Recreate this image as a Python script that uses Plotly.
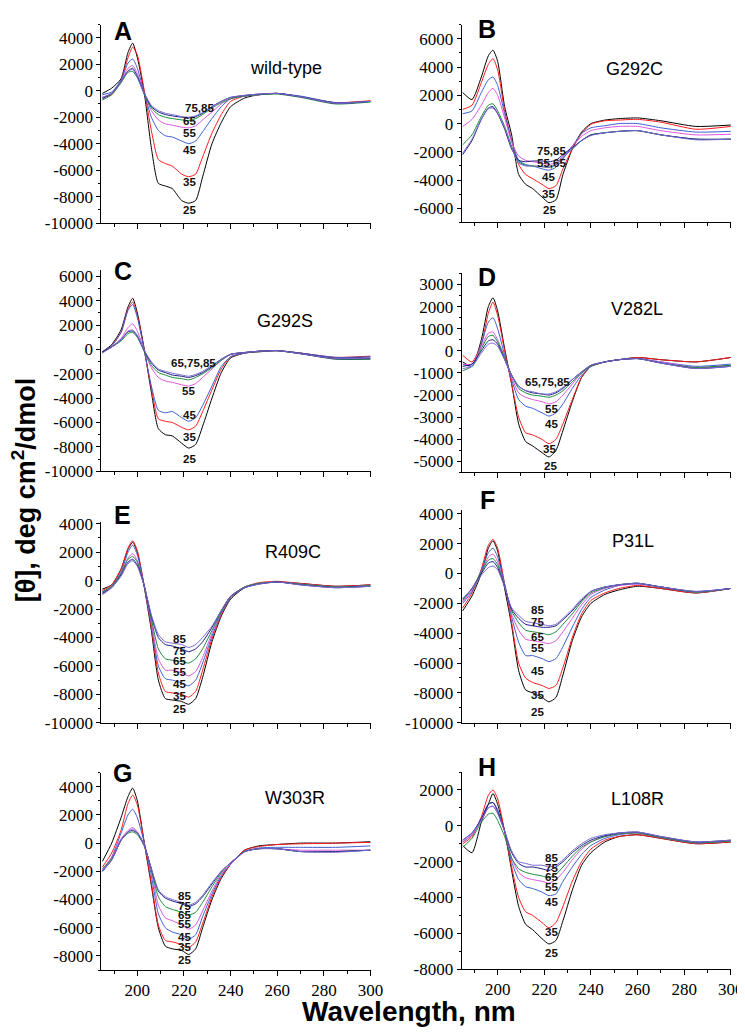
import plotly.graph_objects as go

# ---------------- data ----------------
wavelength = [185, 189, 193, 196, 198, 200, 203, 206, 209, 212, 215, 219, 222,
              225, 228, 232, 236, 240, 246, 252, 260, 270, 285, 300]
temperatures = [25, 35, 45, 55, 65, 75, 85]
line_colors = ["#000000", "#FF1A1A", "#3B5FD0", "#DD55DD", "#1A8A3A", "#1C1C80", "#7A6AD0"]

panel_letters = ["A", "B", "C", "D", "E", "F", "G", "H"]
panel_names = ["wild-type", "G292C", "G292S", "V282L", "R409C", "P31L", "W303R", "L108R"]

# rows: 25, 35, 45, 55, 65, 75, 85 degC
wild_type = [
    [-200, 200, 900, 2900, 3600, 2500, -200, -4300, -7000, -7200, -7400, -8300, -8500, -8300, -6500, -4000, -2400, -1200, -550, -300, -200, -450, -900, -800],
    [-500, -300, 800, 2500, 3300, 2700, 0, -3000, -5200, -5500, -5700, -6300, -6500, -6300, -5000, -3200, -1800, -800, -400, -300, -200, -450, -900, -750],
    [-300, -100, 800, 2100, 2400, 1700, -200, -2000, -3000, -3400, -3500, -3800, -4000, -3800, -3100, -2100, -1200, -600, -400, -300, -200, -400, -900, -800],
    [-500, -200, 700, 1700, 1900, 1300, -200, -1500, -2200, -2500, -2600, -2750, -2800, -2650, -2200, -1600, -1000, -600, -400, -300, -200, -450, -950, -800],
    [-700, -300, 600, 1400, 1450, 1000, -300, -1300, -1800, -2000, -2100, -2200, -2250, -2100, -1800, -1300, -900, -600, -400, -300, -250, -500, -1000, -850],
    [-600, -200, 700, 1500, 1700, 1100, -200, -1200, -1600, -1800, -1900, -2000, -2050, -1950, -1700, -1200, -800, -500, -350, -250, -200, -450, -950, -800],
    [-500, -200, 700, 1500, 1600, 1000, -200, -1100, -1500, -1700, -1800, -1950, -2000, -1900, -1650, -1200, -800, -500, -350, -250, -200, -450, -950, -800],
]
g292c = [
    [2200, 1700, 3300, 4800, 5200, 4400, 1200, -800, -3600, -4300, -4600, -5200, -5600, -5400, -3600, -1800, -600, 0, 250, 350, 400, 200, -200, -100],
    [1000, 1300, 2900, 4200, 4600, 3800, 900, -1200, -2900, -3600, -3900, -4300, -4600, -4400, -3200, -1800, -700, -50, 200, 250, 300, 100, -400, -200],
    [700, 900, 2200, 3100, 3300, 2700, 700, -1200, -2600, -2900, -3000, -3200, -3300, -3100, -2500, -1600, -700, -300, -150, 0, 0, -300, -600, -550],
    [-200, 300, 1300, 2200, 2500, 2000, 400, -1300, -2300, -2600, -2700, -2800, -2900, -2750, -2300, -1600, -900, -500, -300, -200, -200, -500, -800, -750],
    [-1500, -800, 500, 1300, 1400, 900, -200, -1600, -2700, -2950, -3000, -3050, -3100, -2900, -2400, -1800, -1200, -800, -650, -550, -500, -800, -1100, -1100],
    [-2200, -1200, 300, 1100, 1200, 700, -400, -1800, -2600, -2700, -2650, -2650, -2700, -2600, -2200, -1700, -1200, -800, -650, -550, -500, -800, -1100, -1100],
    [-2100, -1100, 300, 1050, 1100, 700, -300, -1700, -2800, -3000, -3000, -3050, -3100, -2900, -2400, -1800, -1200, -850, -650, -550, -500, -800, -1150, -1100],
]
g292s = [
    [-200, 400, 1600, 3500, 4200, 3000, 0, -3500, -6500, -7000, -7100, -7700, -8100, -7800, -6300, -4000, -1900, -700, -300, -200, -100, -300, -700, -600],
    [-200, 300, 1400, 3300, 3900, 2800, -100, -3200, -5700, -5900, -6000, -6400, -6600, -6300, -5100, -3300, -1600, -600, -300, -150, -100, -300, -650, -550],
    [-200, 300, 1400, 3200, 3700, 2600, -100, -3000, -5000, -5200, -5100, -5600, -5900, -5600, -4600, -3000, -1400, -600, -300, -150, -100, -300, -650, -600],
    [-200, 200, 900, 1800, 2100, 1500, -100, -1500, -2300, -2600, -2700, -2900, -3000, -2800, -2300, -1600, -900, -400, -250, -150, -100, -350, -800, -800],
    [-200, 200, 700, 1300, 1400, 1000, -200, -1300, -1900, -2100, -2300, -2400, -2500, -2300, -2000, -1500, -900, -400, -250, -150, -100, -350, -800, -800],
    [-200, 200, 800, 1450, 1500, 1100, -100, -1100, -1700, -1900, -2100, -2200, -2300, -2150, -1900, -1400, -800, -400, -250, -150, -100, -350, -750, -750],
    [-300, 200, 800, 1500, 1600, 1150, -100, -1000, -1600, -1800, -1950, -2100, -2200, -2050, -1800, -1300, -800, -400, -250, -150, -100, -350, -750, -700],
]
v282l = [
    [-500, -700, 500, 2000, 2400, 1800, 100, -1500, -3300, -4100, -4300, -4600, -4800, -4500, -3600, -2300, -1200, -700, -500, -400, -300, -400, -500, -300],
    [-200, -500, 300, 1700, 2200, 1600, 0, -1500, -3000, -3700, -3800, -4000, -4200, -4000, -3300, -2200, -1200, -700, -500, -400, -300, -400, -500, -300],
    [-600, -700, 300, 1300, 1500, 1000, -200, -1300, -2200, -2500, -2600, -2800, -2950, -2800, -2400, -1700, -1100, -700, -500, -400, -350, -500, -700, -600],
    [-600, -600, 200, 800, 850, 500, -300, -1200, -1900, -2100, -2200, -2300, -2400, -2300, -2000, -1500, -1000, -700, -500, -400, -350, -500, -750, -650],
    [-900, -700, 100, 650, 700, 400, -300, -1100, -1700, -1900, -2000, -2050, -2100, -2000, -1800, -1400, -1000, -700, -500, -400, -350, -550, -750, -650],
    [-700, -600, 0, 450, 500, 300, -400, -1100, -1600, -1800, -1900, -1950, -2000, -1900, -1700, -1300, -950, -650, -500, -400, -350, -550, -800, -700],
    [-800, -700, -100, 300, 350, 200, -400, -1100, -1600, -1800, -1850, -1950, -1950, -1850, -1650, -1300, -950, -650, -500, -400, -350, -550, -800, -700],
]
r409c = [
    [-600, -300, 800, 2200, 2700, 2000, -500, -3500, -7000, -8300, -8400, -8500, -8700, -8300, -6800, -4300, -2500, -1300, -500, -200, -100, -200, -400, -300],
    [-700, -300, 800, 2300, 2800, 2100, -400, -3300, -6500, -7800, -7900, -8000, -8200, -7800, -6300, -4100, -2400, -1200, -450, -150, -50, -200, -400, -300],
    [-800, -400, 600, 2000, 2500, 1800, -400, -3100, -6000, -6900, -7000, -7200, -7400, -7000, -5800, -3900, -2300, -1200, -450, -200, -100, -250, -450, -350],
    [-900, -400, 500, 1600, 1900, 1400, -400, -2900, -5500, -6300, -6300, -6500, -6700, -6400, -5400, -3700, -2200, -1100, -450, -200, -100, -250, -450, -350],
    [-800, -400, 500, 1500, 1700, 1300, -400, -2700, -4800, -5500, -5600, -5700, -5800, -5500, -4800, -3500, -2200, -1100, -450, -200, -100, -250, -450, -350],
    [-900, -500, 400, 1300, 1500, 1100, -400, -2500, -4000, -4500, -4600, -4800, -5000, -4800, -4300, -3300, -2100, -1100, -500, -250, -100, -300, -500, -400],
    [-1000, -500, 300, 1200, 1400, 1000, -400, -2400, -3800, -4300, -4400, -4500, -4700, -4500, -4000, -3200, -2100, -1100, -500, -250, -100, -300, -500, -400],
]
p31l = [
    [-2500, -1500, 0, 1700, 2200, 1500, -1000, -3500, -6500, -7800, -8000, -8300, -8600, -8300, -6800, -4500, -2900, -2000, -1400, -1100, -850, -1000, -1300, -1000],
    [-2300, -1300, 300, 1900, 2300, 1700, -700, -3300, -6000, -7000, -7300, -7500, -7700, -7500, -6300, -4300, -2700, -1800, -1300, -1000, -800, -1000, -1300, -1000],
    [-2000, -1200, 200, 1400, 1700, 1100, -700, -2900, -4600, -5500, -5500, -5700, -5900, -5700, -4900, -3600, -2400, -1600, -1100, -800, -700, -900, -1250, -1000],
    [-1900, -1100, 100, 1100, 1300, 800, -800, -2700, -3800, -4400, -4500, -4600, -4700, -4500, -3900, -3000, -2100, -1400, -1000, -800, -700, -900, -1250, -1000],
    [-1800, -1000, 100, 900, 1000, 600, -800, -2500, -3300, -3800, -3900, -4000, -4100, -3900, -3400, -2700, -1900, -1300, -950, -750, -650, -900, -1250, -1000],
    [-1700, -1000, 0, 700, 800, 400, -900, -2400, -3000, -3400, -3500, -3600, -3600, -3500, -3100, -2500, -1800, -1200, -900, -750, -650, -900, -1200, -1000],
    [-1700, -1000, -100, 400, 500, 250, -900, -2300, -2800, -3200, -3300, -3400, -3500, -3400, -3000, -2400, -1700, -1200, -900, -750, -650, -900, -1200, -1000],
]
w303r = [
    [-1300, 0, 1800, 3300, 3900, 3000, 0, -3000, -6000, -7300, -7500, -7600, -7900, -7500, -6000, -4000, -2500, -1500, -500, -200, -100, 0, 0, 100],
    [-1700, -700, 900, 2800, 3400, 2700, 0, -2800, -5800, -6900, -7000, -7200, -7400, -7000, -5700, -3800, -2400, -1500, -500, -250, -100, -50, 0, 50],
    [-2000, -1000, 700, 2000, 2400, 1800, 0, -2300, -5000, -6000, -6300, -6500, -6800, -6500, -5200, -3600, -2300, -1500, -600, -350, -300, -300, -300, -200],
    [-1900, -1000, 300, 900, 1100, 800, -100, -2000, -4400, -5300, -5500, -5800, -6100, -5800, -4800, -3400, -2200, -1500, -600, -400, -400, -500, -500, -500],
    [-1800, -1100, 200, 700, 800, 600, -200, -1900, -3800, -4500, -4700, -4900, -5100, -4900, -4200, -3100, -2100, -1400, -600, -400, -400, -600, -600, -500],
    [-2000, -1200, 200, 800, 900, 700, -200, -1800, -3400, -3900, -4100, -4300, -4500, -4300, -3800, -2900, -2000, -1400, -600, -400, -400, -600, -600, -500],
    [-2000, -1200, 200, 800, 1000, 750, -200, -1800, -3300, -3800, -4000, -4200, -4400, -4200, -3700, -2800, -2000, -1400, -600, -400, -400, -600, -650, -500],
]
l108r = [
    [-1100, -1500, 200, 1200, 1800, 1200, -300, -2500, -4500, -5500, -5800, -6300, -6600, -6400, -5300, -3600, -2200, -1500, -900, -600, -500, -700, -1000, -900],
    [-1000, -600, 500, 1700, 2000, 1500, -300, -2300, -4000, -4800, -5000, -5400, -5700, -5400, -4500, -3100, -2000, -1300, -800, -600, -500, -700, -1000, -900],
    [-900, -500, 400, 1200, 1300, 900, -300, -2000, -3000, -3400, -3500, -3700, -3900, -3800, -3100, -2300, -1600, -1100, -700, -500, -400, -650, -950, -850],
    [-900, -500, 300, 1000, 1100, 700, -300, -1800, -2600, -2900, -3000, -3100, -3200, -3000, -2600, -1900, -1300, -900, -600, -450, -400, -650, -950, -850],
    [-1200, -700, 200, 650, 700, 300, -600, -1800, -2400, -2600, -2700, -2800, -2900, -2700, -2300, -1700, -1200, -900, -600, -450, -400, -650, -950, -850],
    [-800, -400, 400, 1200, 1300, 800, -300, -1500, -2100, -2300, -2300, -2400, -2500, -2300, -2000, -1500, -1100, -800, -550, -400, -350, -600, -900, -800],
    [-800, -400, 300, 1000, 1100, 700, -300, -1400, -2000, -2100, -2200, -2200, -2300, -2200, -1900, -1400, -1000, -700, -500, -400, -350, -600, -900, -800],
]
panels_data = [wild_type, g292c, g292s, v282l, r409c, p31l, w303r, l108r]

# temperature labels: text, wavelength, ellipticity
wt_labels = (["75,85", "65", "55", "45", "35", "25"],
             [226.7, 222.3, 222.5, 222.5, 222.5, 222.5],
             [-1300, -2250, -3200, -4500, -6900, -9000])
g292c_labels = (["75,85", "55,65", "45", "35", "25"],
                [222.9, 222.9, 221.8, 221.9, 222.4],
                [-1950, -2800, -3750, -5000, -6100])
g292s_labels = (["65,75,85", "55", "45", "35", "25"],
                [224.2, 222.1, 222.2, 222.2, 222.2],
                [-1150, -3400, -5400, -7200, -9000])
v282l_labels = (["65,75,85", "55", "45", "35", "25"],
                [221.5, 222.9, 223.1, 222.2, 222.6],
                [-1420, -2630, -3300, -4430, -5220])
r409c_labels = (["85", "75", "65", "55", "45", "35", "25"],
                [217.9] * 7,
                [-4130, -4940, -5630, -6430, -7240, -8090, -9020])
p31l_labels = (["85", "75", "65", "55", "45", "35", "25"],
               [217.2] * 7,
               [-2470, -3240, -4230, -5000, -6530, -8130, -9280])
w303r_labels = (["85", "75", "65", "55", "45", "35", "25"],
                [220.4] * 7,
                [-3770, -4440, -5090, -5740, -6650, -7340, -8270])
l108r_labels = (["85", "75", "65", "55", "45", "35", "25"],
                [222.9] * 7,
                [-1790, -2370, -2880, -3430, -4250, -5950, -7090])
panels_labels = [wt_labels, g292c_labels, g292s_labels, v282l_labels,
                 r409c_labels, p31l_labels, w303r_labels, l108r_labels]

y_ranges = [(-10000, 5000), (-7000, 7000), (-10000, 6500), (-5500, 3500),
            (-10000, 4100), (-10000, 4250), (-9000, 5000), (-8000, 3000)]
y_ticks = [list(range(-10000, 4001, 2000)), list(range(-6000, 6001, 2000)),
           list(range(-10000, 6001, 2000)), list(range(-5000, 3001, 1000)),
           list(range(-10000, 4001, 2000)), list(range(-10000, 4001, 2000)),
           list(range(-8000, 4001, 2000)), list(range(-8000, 2001, 2000))]
x_ticks = [200, 220, 240, 260, 280, 300]

# ---------------- layout geometry ----------------
W, H = 745, 1032
col_px = [(95, 369), (461.7, 735.7)]
row_px = [(8.8, 210.7), (8.9, 210.1), (258.8, 463.3), (262.0, 464.6),
          (515.3, 719.3), (502.9, 719.3), (770.0, 971.0), (769.5, 970.0)]
letter_pos = [(0.079, 0.97), (0.095, 0.98), (0.079, 0.995), (0.095, 0.983),
              (0.079, 1.037), (0.095, 1.049), (0.079, 1.0), (0.095, 1.027)]
name_pos = [(0.686, 0.783), (0.642, 0.778), (0.682, 0.749), (0.653, 0.823),
            (0.712, 0.853), (0.635, 0.853), (0.719, 0.871), (0.653, 0.861)]

SERIF = "Liberation Serif"
SANS = "Liberation Sans, Arial, sans-serif"

fig = go.Figure()
annotations = []
layout_axes = {}

for i in range(8):
    n = i + 1
    xa = "x" if n == 1 else f"x{n}"
    ya = "y" if n == 1 else f"y{n}"
    col = i % 2
    x0, x1 = col_px[col]
    top, bot = row_px[i]
    for t, c, vals in zip(temperatures, line_colors, panels_data[i]):
        fig.add_trace(go.Scatter(
            x=wavelength, y=vals, mode="lines", name=f"{t}",
            line=dict(color=c, width=1, shape="spline", smoothing=0.6),
            xaxis=xa, yaxis=ya, showlegend=False, hoverinfo="skip"))
    bottom_row = i >= 6
    layout_axes[("xaxis" if n == 1 else f"xaxis{n}")] = dict(
        domain=[x0 / W, x1 / W], anchor=ya, range=[184.56, 300],
        showline=True, linecolor="black", linewidth=1, mirror=False,
        showgrid=False, zeroline=False,
        ticks="outside", ticklen=5, tickwidth=1, tickcolor="black",
        tickvals=x_ticks, ticktext=[str(v) for v in x_ticks],
        showticklabels=bottom_row,
        tickfont=dict(family=SERIF, size=17, color="black"),
        minor=dict(tickvals=[190, 210, 230, 250, 270, 290], ticks="outside",
                   ticklen=3, tickcolor="black", tickwidth=1),
    )
    yt = y_ticks[i]
    step = yt[1] - yt[0]
    minor_vals = [v + step / 2 for v in yt] + [yt[0] - step / 2]
    layout_axes[("yaxis" if n == 1 else f"yaxis{n}")] = dict(
        domain=[1 - bot / H, 1 - top / H], anchor=xa, range=list(y_ranges[i]),
        showline=True, linecolor="black", linewidth=1, mirror=False,
        showgrid=False, zeroline=False,
        ticks="outside", ticklen=4, tickwidth=1, tickcolor="black",
        tickvals=yt, ticktext=[str(v) for v in yt],
        tickfont=dict(family=SERIF, size=17, color="black"),
        minor=dict(tickvals=minor_vals, ticks="outside", ticklen=2,
                   tickcolor="black", tickwidth=1),
    )
    # panel letter
    annotations.append(dict(
        text=f"<b>{panel_letters[i]}</b>", xref=f"{xa} domain", yref=f"{ya} domain",
        x=letter_pos[i][0], y=letter_pos[i][1], xanchor="center", yanchor="middle",
        showarrow=False, font=dict(family=SANS, size=25, color="black")))
    # panel name
    annotations.append(dict(
        text=panel_names[i], xref=f"{xa} domain", yref=f"{ya} domain",
        x=name_pos[i][0], y=name_pos[i][1], xanchor="center", yanchor="middle",
        showarrow=False, font=dict(family=SANS, size=18, color="black")))
    # temperature labels
    texts, lx, ly = panels_labels[i]
    for tx, xx, yy in zip(texts, lx, ly):
        annotations.append(dict(
            text=f"<b>{tx}</b>", xref=xa, yref=ya, x=xx, y=yy,
            xanchor="center", yanchor="middle", showarrow=False,
            font=dict(family=SANS, size=11.5, color="#111111")))

# axis titles
annotations.append(dict(
    text="<b>[θ], deg cm<sup>2</sup>/dmol</b>", xref="paper", yref="paper",
    x=16 / W, y=1 - 482 / H, xanchor="center", yanchor="middle", textangle=-90,
    showarrow=False, font=dict(family=SANS, size=27, color="black")))
annotations.append(dict(
    text="<b>Wavelength, nm</b>", xref="paper", yref="paper",
    x=408 / W, y=1 - 1013 / H, xanchor="center", yanchor="middle",
    showarrow=False, font=dict(family=SANS, size=28, color="black")))

fig.update_layout(
    width=W, height=H, margin=dict(l=0, r=0, t=0, b=0),
    paper_bgcolor="white", plot_bgcolor="white",
    showlegend=False, annotations=annotations, **layout_axes)

fig.write_html("out.html")
